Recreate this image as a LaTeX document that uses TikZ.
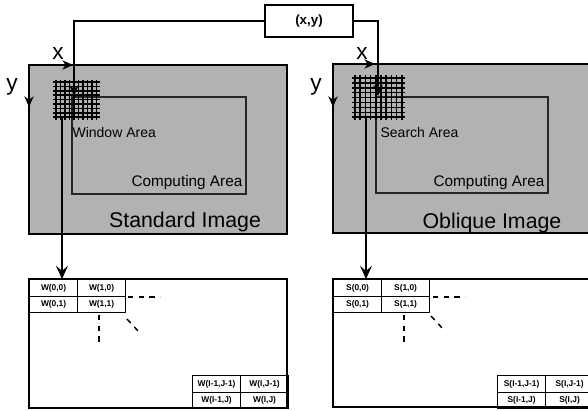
\documentclass[tikz,border=0pt]{standalone}
\usepackage{fontspec}
\setmainfont{Liberation Sans}
\usetikzlibrary{arrows.meta}
\begin{document}
\begin{tikzpicture}[x=0.75pt,y=-0.75pt,line width=0.9pt,
  img/.style={draw=black,fill=black!30,line width=1pt},
  comp/.style={draw=black!85,line width=0.8pt},
  cell/.style={draw,line width=0.9pt,minimum width=36pt,minimum height=12.4pt,inner sep=0pt,
    font=\fontsize{6.3}{7}\selectfont\bfseries,anchor=north west},
  lbl/.style={inner sep=0pt,font=\fontsize{10.5}{12}\selectfont},
  clbl/.style={inner sep=0pt,font=\fontsize{11.5}{13}\selectfont},
  big/.style={inner sep=0pt,font=\fontsize{16}{18}\selectfont},
  axis/.style={inner sep=0pt,font=\fontsize{17}{18}\selectfont},
  arr/.style={-{Stealth[length=8pt,width=7pt,inset=2.5pt]}},
  bigarr/.style={-{Stealth[length=10pt,width=9pt,inset=4pt]}},
  gridln/.style={line width=1.1pt},
  dotsln/.style={line width=1.1pt,dash pattern=on 4pt off 4pt}
]
\clip (0,0) rectangle (588,410);
\fill[white] (0,0) rectangle (588,410);

% images
\draw[img] (29,65) rectangle (287,234);
\draw[img] (333,64) rectangle (600,233);
\draw[comp] (72,97) rectangle (246,194);
\draw[comp] (376,97) rectangle (548,193);

% grids
\foreach \i in {0,...,9} \draw[gridln] ({56+\i*4.5},80) -- ({56+\i*4.5},120);
\foreach \j in {0,...,8} \draw[gridln] (53,{82+\j*4.4}) -- (100,{82+\j*4.4});
\foreach \i in {0,...,9} \draw[gridln] ({355+\i*5.2},75) -- ({355+\i*5.2},120);
\foreach \j in {0,...,8} \draw[gridln] (352,{78+\j*4.9}) -- (405,{78+\j*4.9});

% texts in images
\node[lbl,anchor=west] (wa) at (72,132) {Window Area};
\node[clbl,anchor=east] (ca1) at (243,183) {Computing Area};
\node[big] (si) at (185,222) {Standard Image};
\node[lbl,anchor=west] (sa) at (380,132) {Search Area};
\node[clbl,anchor=east] (ca2) at (545,183) {Computing Area};
\node[big] (oi) at (492,223) {Oblique Image};

% axes
\node[axis] (xl) at (58,54) {x};
\node[axis] (yl) at (12,87) {y};
\node[axis] (xr) at (362,54) {x};
\node[axis] (yr) at (316,87) {y};
\coordinate (xl0) at (55,65); \coordinate (xl1) at (73,65);
\coordinate (yl0) at (29,85); \coordinate (yl1) at (29,107);
\coordinate (xr0) at (357,64); \coordinate (xr1) at (375,64);
\coordinate (yr0) at (333,85); \coordinate (yr1) at (333,107);
\draw[arr] (xl0) -- (xl1);
\draw[arr] (yl0) -- (yl1);
\draw[arr] (xr0) -- (xr1);
\draw[arr] (yr0) -- (yr1);

% (x,y) box
\node[draw,line width=0.9pt,minimum width=66pt,minimum height=24pt,inner sep=0pt,
  font=\fontsize{10}{12}\selectfont\bfseries] (xy) at (309,21) {(x,y)};
\coordinate (gl) at (74,96);
\coordinate (gr) at (378,96);
\draw[arr] (xy.west) -| (gl);
\draw[arr] (xy.east) -| (gr);

% tables
\draw[line width=1pt] (29,279) rectangle (287,408);
\draw[line width=1pt] (600,407) -- (333,407) -- (333,279) -- (600,279);

\coordinate (gbl) at (62,118);
\coordinate (tl) at (62,279);
\coordinate (gbr) at (366,118);
\coordinate (tr) at (366,279);
\draw[bigarr] (gbl) -- (tl);
\draw[bigarr] (gbr) -- (tr);

\node[cell] (w00) at (29,279) {W(0,0)};
\node[cell] (w10) at (77,279) {W(1,0)};
\node[cell] (w01) at (29,295.5) {W(0,1)};
\node[cell] (w11) at (77,295.5) {W(1,1)};
\node[cell] (wa1) at (192,375) {W(I-1,J-1)};
\node[cell] (wb1) at (240,375) {W(I,J-1)};
\node[cell] (wa2) at (192,391.5) {W(I-1,J)};
\node[cell] (wb2) at (240,391.5) {W(I,J)};

\node[cell] (s00) at (333,279) {S(0,0)};
\node[cell] (s10) at (381,279) {S(1,0)};
\node[cell] (s01) at (333,295.5) {S(0,1)};
\node[cell] (s11) at (381,295.5) {S(1,1)};
\node[cell] (sa1) at (497,375) {S(I-1,J-1)};
\node[cell] (sb1) at (545,375) {S(I,J-1)};
\node[cell] (sa2) at (497,391.5) {S(I-1,J)};
\node[cell] (sb2) at (545,391.5) {S(I,J)};

% ellipsis dashes
\draw[dotsln] (128,297) -- (160,297);
\draw[dotsln] (99,315) -- (99,346);
\draw[dotsln] (127,319) -- (139,332);
\draw[dotsln] (433,297) -- (465,297);
\draw[dotsln] (404,315) -- (404,346);
\draw[dotsln] (431,316) -- (443,329);
\end{tikzpicture}
\end{document}
